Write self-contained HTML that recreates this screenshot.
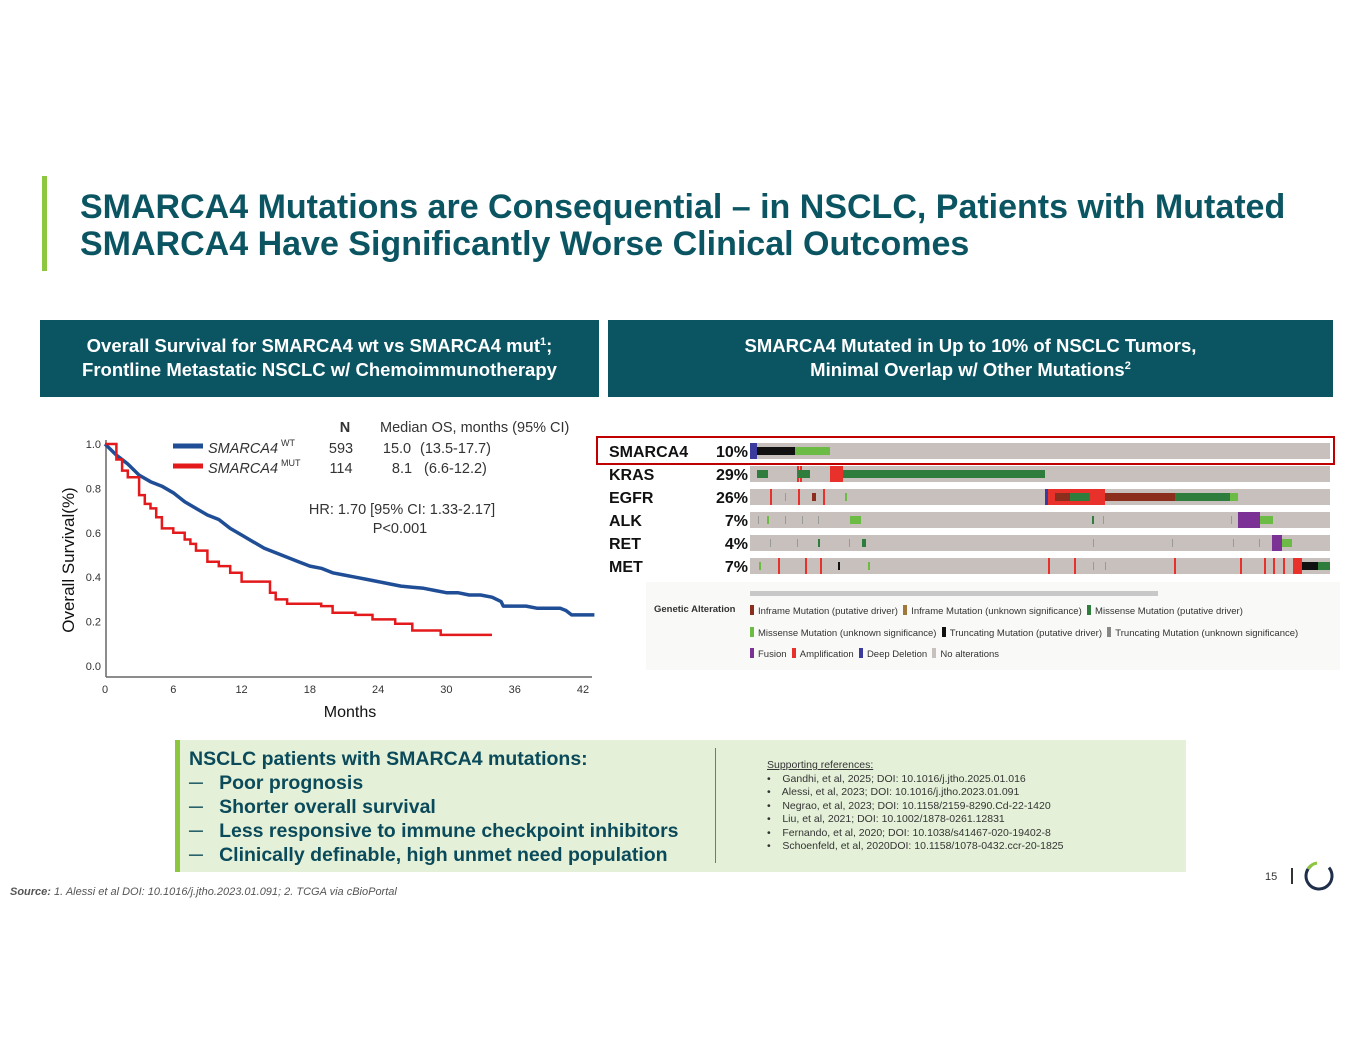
<!DOCTYPE html>
<html><head><meta charset="utf-8">
<style>
body{margin:0;width:1365px;height:1055px;background:#fff;position:relative;overflow:hidden;font-family:"Liberation Sans",Arial,sans-serif}
.abs{position:absolute}
.hdr{background:#0b5563;color:#fff;font-weight:bold;font-size:18.5px;text-align:center;line-height:24px;box-sizing:border-box;padding-top:14px;white-space:nowrap}
.hdr sup{font-size:11px;line-height:0;vertical-align:7px}
.leg{position:absolute;font-size:9.5px;color:#333;white-space:nowrap}
.sw{display:inline-block;width:4px;height:10px;vertical-align:-1px;margin-right:4px}
</style></head><body>
<div class="abs" style="left:42px;top:176px;width:5px;height:95px;background:#8dc63f"></div>
<div class="abs" style="left:80px;top:189px;font-size:34px;font-weight:bold;color:#0b5563;line-height:37px;white-space:nowrap">SMARCA4 Mutations are Consequential – in NSCLC, Patients with Mutated<br>SMARCA4 Have Significantly Worse Clinical Outcomes</div>

<div class="abs hdr" style="left:40px;top:320px;width:559px;height:77px">Overall Survival for SMARCA4 wt vs SMARCA4 mut<sup>1</sup>;<br>Frontline Metastatic NSCLC w/ Chemoimmunotherapy</div>
<div class="abs hdr" style="left:608px;top:320px;width:725px;height:77px">SMARCA4 Mutated in Up to 10% of NSCLC Tumors,<br>Minimal Overlap w/ Other Mutations<sup>2</sup></div>

<svg id="km" class="abs" style="left:40px;top:410px" width="560" height="320" viewBox="40 410 560 320" font-family="Liberation Sans, Arial, sans-serif"></svg>

<div class="abs" style="left:646px;top:582px;width:694px;height:88px;background:#f9f9f7"></div>
<div id="onco" class="abs" style="left:0;top:0"></div>
<div class="abs" style="left:596px;top:436px;width:735px;height:25px;border:2px solid #c00000"></div>
<div class="abs" style="left:750px;top:591px;width:408px;height:5px;background:#c8c8c8"></div>
<div class="leg" style="left:654px;top:604px;font-weight:bold">Genetic Alteration</div>
<div class="leg" style="left:750px;top:605px"><span class="sw" style="background:#8b2e1e"></span>Inframe Mutation (putative driver) &nbsp;<span class="sw" style="background:#a0783c"></span>Inframe Mutation (unknown significance) &nbsp;<span class="sw" style="background:#2e7d3c"></span>Missense Mutation (putative driver)</div>
<div class="leg" style="left:750px;top:627px"><span class="sw" style="background:#6cbb45"></span>Missense Mutation (unknown significance) &nbsp;<span class="sw" style="background:#111"></span>Truncating Mutation (putative driver) &nbsp;<span class="sw" style="background:#888"></span>Truncating Mutation (unknown significance)</div>
<div class="leg" style="left:750px;top:648px"><span class="sw" style="background:#7b3294"></span>Fusion &nbsp;<span class="sw" style="background:#e8312a"></span>Amplification &nbsp;<span class="sw" style="background:#3b3b9e"></span>Deep Deletion &nbsp;<span class="sw" style="background:#c8c0bc"></span>No alterations</div>

<div class="abs" style="left:175px;top:740px;width:1011px;height:132px;background:#e4f1d8;border-left:5px solid #8dc63f;box-sizing:border-box"></div>
<div class="abs" style="left:715px;top:748px;width:1px;height:115px;background:#6a7a8a"></div>
<div class="abs" style="left:189px;top:747px;font-size:19.5px;font-weight:bold;color:#0b4a5a;line-height:24px;white-space:nowrap">NSCLC patients with SMARCA4 mutations:<br>─&nbsp;&nbsp; Poor prognosis<br>─&nbsp;&nbsp; Shorter overall survival<br>─&nbsp;&nbsp; Less responsive to immune checkpoint inhibitors<br>─&nbsp;&nbsp; Clinically definable, high unmet need population</div>
<div class="abs" style="left:767px;top:759px;font-size:10.5px;color:#333;line-height:13.5px"><u>Supporting references:</u><br>•&nbsp;&nbsp;&nbsp; Gandhi, et al, 2025; DOI: 10.1016/j.jtho.2025.01.016<br>•&nbsp;&nbsp;&nbsp; Alessi, et al, 2023; DOI: 10.1016/j.jtho.2023.01.091<br>•&nbsp;&nbsp;&nbsp; Negrao, et al, 2023; DOI: 10.1158/2159-8290.Cd-22-1420<br>•&nbsp;&nbsp;&nbsp; Liu, et al, 2021; DOI: 10.1002/1878-0261.12831<br>•&nbsp;&nbsp;&nbsp; Fernando, et al, 2020; DOI: 10.1038/s41467-020-19402-8<br>•&nbsp;&nbsp;&nbsp; Schoenfeld, et al, 2020DOI: 10.1158/1078-0432.ccr-20-1825</div>
<div class="abs" style="left:10px;top:886px;font-size:11px;font-style:italic;color:#555"><b>Source:</b> 1. Alessi et al DOI: 10.1016/j.jtho.2023.01.091; 2. TCGA via cBioPortal</div>
<div class="abs" style="left:1265px;top:871px;font-size:11px;color:#333">15</div>
<div class="abs" style="left:1291px;top:868px;width:1.5px;height:16px;background:#333"></div>
<svg class="abs" style="left:1302px;top:859px" width="34" height="34" viewBox="0 0 34 34"><circle cx="17" cy="17" r="13" fill="none" stroke="#1f2f4a" stroke-width="3" stroke-dasharray="62 20" transform="rotate(-40 17 17)"/><path d="M6 10 A13 13 0 0 1 15 4" fill="none" stroke="#8dc63f" stroke-width="3"/></svg>

<script>
const wtMonths=[0,1,2,3,4,5,6,7,8,9,10,11,12,13,14,15,16,17,18,19,20,21,22,23,24,25,26,27,28,29,30,31,32,33,34,34.8,35,36,37,38,39,40,40.5,41,43];
const wtSurv=[1.0,0.95,0.91,0.86,0.83,0.81,0.78,0.74,0.71,0.68,0.66,0.62,0.59,0.56,0.53,0.51,0.49,0.47,0.45,0.44,0.42,0.41,0.40,0.39,0.38,0.37,0.36,0.355,0.35,0.34,0.33,0.33,0.32,0.32,0.31,0.29,0.27,0.27,0.27,0.26,0.26,0.26,0.25,0.23,0.23];
const mutMonths=[0,1,1.5,2,3,3.5,4,4.5,5,6,7,7.5,8,9,10,11,12,13,14,14.5,15,16,19,20,21,22,23.5,25.5,27,29.5,34];
const mutSurv=[1.0,0.93,0.88,0.85,0.77,0.73,0.71,0.67,0.62,0.60,0.57,0.55,0.52,0.47,0.45,0.42,0.38,0.38,0.38,0.33,0.30,0.28,0.27,0.24,0.24,0.23,0.21,0.19,0.16,0.14,0.14];
const xTicks=[0,6,12,18,24,30,36,42];
const yTicks=[0.0,0.2,0.4,0.6,0.8,1.0];
const NS='http://www.w3.org/2000/svg';
const km=document.getElementById('km');
const xs=m=>105+m*(583-105)/42;
const ys=v=>666-v*222;
function mk(tag,at,txt){const e=document.createElementNS(NS,tag);for(const k in at)e.setAttribute(k,at[k]);if(txt!==undefined)e.textContent=txt;km.appendChild(e);return e;}
let e;
e=mk('line',{x1:106,y1:440,x2:106,y2:677,stroke:'#666','stroke-width':1.5});


e=mk('line',{x1:106,y1:677,x2:592,y2:677,stroke:'#666','stroke-width':1.5});


xTicks.forEach(t=>{
  e=mk('text',{x:xs(t),y:693,'font-size':11,'text-anchor':'middle',fill:'#333'},String(t));
  
  
});
yTicks.forEach(t=>{
  e=mk('text',{x:101,y:ys(t)+4,'font-size':11,'text-anchor':'end',fill:'#333'},t.toFixed(1));
  
  
});
function linePath(ms,vs){let d='M'+xs(ms[0])+' '+ys(vs[0]);for(let i=1;i<ms.length;i++){d+=' L'+xs(ms[i]).toFixed(1)+' '+ys(vs[i]).toFixed(1);}return d;}
function stepPath(ms,vs){let d='M'+xs(ms[0])+' '+ys(vs[0]);for(let i=1;i<ms.length;i++){d+=' H'+xs(ms[i]).toFixed(1)+' V'+ys(vs[i]).toFixed(1);}return d;}
e=mk('path',{d:linePath(wtMonths,wtSurv),fill:'none',stroke:'#1f4e96','stroke-width':3.5,'stroke-linejoin':'round'});


e=mk('path',{d:stepPath(mutMonths,mutSurv),fill:'none',stroke:'#e3191b','stroke-width':2.5});


e=mk('text',{x:74,y:560,'font-size':17,'text-anchor':'middle',fill:'#111',transform:'rotate(-90 74 560)'},'Overall Survival(%)');


e=mk('text',{x:350,y:717,'font-size':16,'text-anchor':'middle',fill:'#111'},'Months');


e=mk('line',{x1:173,y1:446,x2:203,y2:446,stroke:'#1f4e96','stroke-width':5});


e=mk('line',{x1:173,y1:466,x2:203,y2:466,stroke:'#e3191b','stroke-width':5});


const lg=[['N',345,432,'bold','middle'],['Median OS, months (95% CI)',380,432,'normal','start'],['593',341,453,'normal','middle'],['15.0',397,453,'normal','middle'],['(13.5-17.7)',420,453,'normal','start'],['114',341,473,'normal','middle'],['8.1',402,473,'normal','middle'],['(6.6-12.2)',424,473,'normal','start'],['HR: 1.70 [95% CI: 1.33-2.17]',402,514,'normal','middle'],['P<0.001',400,533,'normal','middle']];
lg.forEach(r=>{e=mk('text',{x:r[1],y:r[2],'font-size':14.5,'font-weight':r[3],'text-anchor':r[4],fill:'#333'},r[0]);

});
e=mk('text',{x:208,y:453,'font-size':14.5,'font-style':'italic',fill:'#333'},'SMARCA4');


e=mk('text',{x:281,y:446,'font-size':9,fill:'#333'},'WT');


e=mk('text',{x:208,y:473,'font-size':14.5,'font-style':'italic',fill:'#333'},'SMARCA4');


e=mk('text',{x:281,y:466,'font-size':9,fill:'#333'},'MUT');



const genes=['SMARCA4','KRAS','EGFR','ALK','RET','MET'];
const pcts=['10%','29%','26%','7%','4%','7%'];
const rowTops=[443,466,489,512,535,558];
const C={inf:'#8b2e1e',mis:'#2e7d3c',misu:'#6cbb45',tr:'#111',fus:'#7b3294',amp:'#e8312a',del:'#3b3b9e',thin:'#999'};
const segs=[[0,750,757,'del'],[0,757,795,'tr'],[0,795,830,'misu'],
[1,757,768,'mis'],[1,798,810,'mis'],[1,830,843,'amp'],[1,843,1045,'mis'],
[2,1048,1105,'amp'],[2,1055,1070,'inf'],[2,1070,1090,'mis'],[2,1105,1175,'inf'],[2,1175,1230,'mis'],[2,1230,1238,'misu'],[2,1045,1048,'del'],[2,812,816,'inf'],
[3,850,861,'misu'],[3,1238,1260,'fus'],[3,1260,1273,'misu'],
[4,1272,1282,'fus'],[4,1282,1292,'misu'],[4,862,866,'mis'],
[5,1293,1302,'amp'],[5,1302,1318,'tr'],[5,1318,1330,'mis']];
const ticks=[[1,797,'amp'],[1,800,'amp'],[2,770,'amp'],[2,798,'amp'],[2,823,'amp'],[2,845,'misu'],[2,785,'thin'],[3,758,'thin'],[3,767,'misu'],[3,785,'thin'],[3,802,'thin'],[3,818,'thin'],[3,1092,'mis'],[3,1103,'thin'],[3,1231,'thin'],[4,770,'thin'],[4,797,'thin'],[4,818,'mis'],[4,849,'thin'],[4,1093,'thin'],[4,1172,'thin'],[4,1233,'thin'],[4,1259,'thin'],[5,759,'misu'],[5,778,'amp'],[5,805,'amp'],[5,820,'amp'],[5,838,'tr'],[5,868,'misu'],[5,1048,'amp'],[5,1074,'amp'],[5,1093,'thin'],[5,1105,'thin'],[5,1174,'amp'],[5,1240,'amp'],[5,1264,'amp'],[5,1273,'amp'],[5,1283,'amp']];
const onco=document.getElementById('onco');
function dv(st){const d=document.createElement('div');d.style.cssText='position:absolute;'+st;onco.appendChild(d);return d;}
genes.forEach((g,i)=>{
  let d=dv('left:750px;top:'+rowTops[i]+'px;width:580px;height:16px;background:#c8c0bc');
  
  
  d=dv('left:609px;top:'+(rowTops[i]+1)+'px;font-weight:bold;font-size:16px;color:#111');d.textContent=g;
  
  
  d=dv('left:690px;width:58px;text-align:right;top:'+(rowTops[i]+1)+'px;font-weight:bold;font-size:16px;color:#111');d.textContent=pcts[i];
  
  
});
ticks.forEach(t=>{const d=dv('left:'+t[1]+'px;top:'+(rowTops[t[0]]+(t[2]==='amp'?0:4))+'px;width:'+(t[2]==='thin'?1:2)+'px;height:'+(t[2]==='amp'?16:8)+'px;background:'+C[t[2]]);
  
  });
segs.forEach(s=>{const full=(s[3]==='amp'||s[3]==='fus'||s[3]==='del');
  const d=dv('left:'+s[1]+'px;top:'+(rowTops[s[0]]+(full?0:4))+'px;width:'+(s[2]-s[1])+'px;height:'+(full?16:8)+'px;background:'+C[s[3]]);
  
  });
</script>
</body></html>
